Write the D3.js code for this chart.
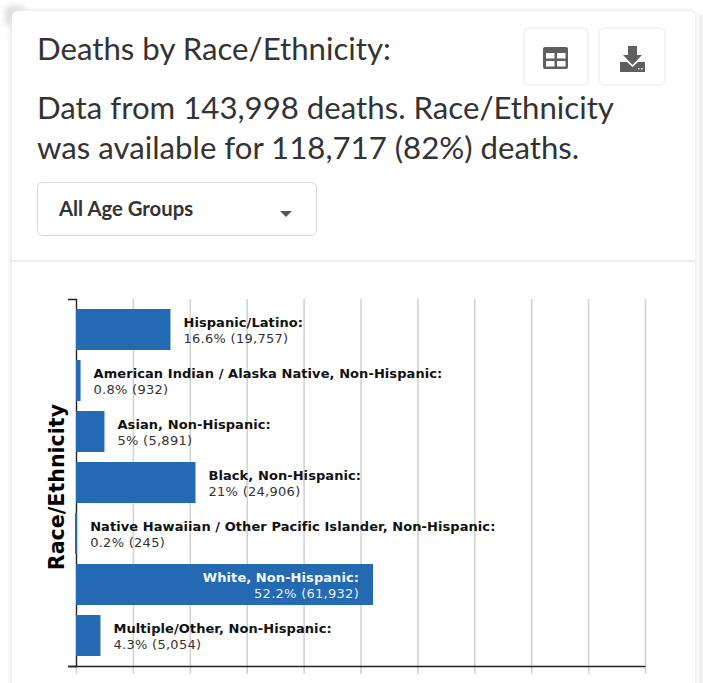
<!DOCTYPE html>
<html>
<head>
<meta charset="utf-8">
<script src="https://cdn.jsdelivr.net/npm/d3@7"></script>
<style>
  html, body { margin: 0; padding: 0; background: #fff; overflow: hidden; }
  svg { display: block; }
  .head { font-family: Lato, sans-serif; fill: #333; font-size: 31.2px; }
  .lab { font-family: "DejaVu Sans", sans-serif; font-size: 13px; fill: #333; letter-spacing: 0.28px; }
  .lab .name { font-weight: bold; fill: #111; letter-spacing: 0.07px; }
  .axis-title { font-family: "DejaVu Sans", sans-serif; font-size: 20.6px; font-weight: bold; fill: #000; }
</style>
</head>
<body>
<div id="chart"></div>
<script>
var w = 703;
var h = 683;

var categories = [
  "Hispanic/Latino",
  "American Indian / Alaska Native, Non-Hispanic",
  "Asian, Non-Hispanic",
  "Black, Non-Hispanic",
  "Native Hawaiian / Other Pacific Islander, Non-Hispanic",
  "White, Non-Hispanic",
  "Multiple/Other, Non-Hispanic"
];
var percents = [16.6, 0.8, 5, 21, 0.2, 52.2, 4.3];
var counts = [19757, 932, 5891, 24906, 245, 61932, 5054];
var xTicks = [0, 10, 20, 30, 40, 50, 60, 70, 80, 90, 100];

var titleLines = [
  "Deaths by Race/Ethnicity:",
  "Data from 143,998 deaths. Race/Ethnicity",
  "was available for 118,717 (82%) deaths."
];
var dropdownLabel = "All Age Groups";
var yTitle = "Race/Ethnicity";

var svg = d3.select("#chart").append("svg")
  .attr("width", w)
  .attr("height", h);

var defs = svg.append("defs");
var blur = defs.append("filter").attr("id", "soft")
  .attr("x", "-20%").attr("y", "-20%").attr("width", "140%").attr("height", "140%");
blur.append("feGaussianBlur").attr("stdDeviation", 2);
var blur2 = defs.append("filter").attr("id", "softer")
  .attr("x", "-50%").attr("y", "-50%").attr("width", "200%").attr("height", "200%");
blur2.append("feGaussianBlur").attr("stdDeviation", 3);

// page behind the card
svg.append("rect").attr("x", 5).attr("y", 6).attr("width", 20).attr("height", 20)
  .attr("rx", 6).attr("fill", "#dcdcdc").attr("filter", "url(#softer)");
svg.append("rect").attr("x", 699).attr("y", 15).attr("width", 10).attr("height", 680)
  .attr("fill", "#f2f2f2");

// card
svg.append("rect").attr("x", 10).attr("y", 10).attr("width", 686).attr("height", 720)
  .attr("rx", 7).attr("fill", "#e6e6e6").attr("filter", "url(#soft)");
svg.append("rect").attr("x", 12).attr("y", 11).attr("width", 683).attr("height", 720)
  .attr("rx", 6).attr("fill", "#fff");
svg.append("line").attr("x1", 12).attr("x2", 695).attr("y1", 261).attr("y2", 261)
  .attr("stroke", "#e4e4e4").attr("stroke-width", 1.5);

// heading
svg.selectAll("text.head").data(titleLines).enter().append("text")
  .attr("class", "head")
  .attr("x", 37)
  .attr("y", function(d, i) { return [60, 119, 159][i]; })
  .text(function(d) { return d; });

// buttons
[[524, 64], [599, 66]].forEach(function(b) {
  svg.append("rect").attr("x", b[0]).attr("y", 28).attr("width", b[1]).attr("height", 57)
    .attr("rx", 5).attr("fill", "#fff").attr("stroke", "#f3f3f3").attr("stroke-width", 2);
});
// table icon
svg.append("rect").attr("x", 543).attr("y", 47).attr("width", 25).attr("height", 22)
  .attr("rx", 2).attr("fill", "#5f5f5f");
[[546, 53], [557, 53], [546, 61], [557, 61]].forEach(function(c) {
  svg.append("rect").attr("x", c[0]).attr("y", c[1]).attr("width", 8.5).attr("height", 5.5).attr("fill", "#fff");
});
// download icon
svg.append("path")
  .attr("d", "M628 46h9v9h5l-9.5 10-9.5-10h5z M620 62h7l5.5 5 5.5-5h7v10h-25z")
  .attr("fill", "#5f5f5f");
svg.append("rect").attr("x", 638).attr("y", 68).attr("width", 1.5).attr("height", 1.5).attr("fill", "#fff");
svg.append("rect").attr("x", 641).attr("y", 68).attr("width", 1.5).attr("height", 1.5).attr("fill", "#fff");

// dropdown
svg.append("rect").attr("x", 37.5).attr("y", 182.5).attr("width", 279).attr("height", 53)
  .attr("rx", 5).attr("fill", "#fff").attr("stroke", "#d9d9d9");
svg.append("text").attr("x", 59).attr("y", 216)
  .attr("font-family", "Lato, sans-serif").attr("font-size", 20.3).attr("font-weight", "bold")
  .attr("fill", "#333").text(dropdownLabel);
svg.append("path").attr("d", "M280 211h12l-6 6z").attr("fill", "#555");

// chart
var xScale = d3.scaleLinear().domain([0, 100]).range([76, 645]);
var yScale = d3.scaleBand().domain(categories).range([299, 666]).padding(0.196);

//grid lines come from the bottom axis ticks
var xAxis = d3.axisBottom(xScale)
  .tickValues(xTicks)
  .tickSize(8)
  .tickSizeOuter(0)
  .tickFormat("");
var xg = svg.append("g")
  .attr("transform", "translate(0,666)")
  .call(xAxis);
xg.selectAll(".tick line")
  .attr("y1", -367)
  .attr("stroke", "#d2d2d2")
  .attr("stroke-width", 1.6);

var yAxis = d3.axisLeft(yScale).tickValues([]).tickSizeOuter(8);
var yg = svg.append("g")
  .attr("transform", "translate(76,0)")
  .call(yAxis);
yg.select(".domain").attr("stroke", "#222").attr("stroke-width", 1.3);

xg.select(".domain").remove();
svg.append("g").attr("transform", "translate(0,666)")
  .call(d3.axisBottom(d3.scaleLinear().domain([0, 100]).range([68, 645])).tickValues([]).tickSizeOuter(0))
  .select(".domain").attr("stroke", "#222").attr("stroke-width", 1.3);

var rows = categories.map(function(c, i) {
  return { name: c, pct: percents[i], count: counts[i] };
});

// very small bars get a 2px minimum so they still show over the axis line
var minBar = 2;
svg.selectAll("rect.bar").data(rows).enter().append("rect")
  .attr("class", "bar")
  .attr("x", function(d) {
    var bw = xScale(d.pct) - xScale(0);
    return bw < minBar ? xScale(0) - minBar / 2 : xScale(0);
  })
  .attr("y", function(d) { return yScale(d.name); })
  .attr("width", function(d) { return Math.max(xScale(d.pct) - xScale(0), minBar); })
  .attr("height", yScale.bandwidth())
  .attr("fill", "#236ab3");

var fmt = d3.format(",");
var labels = svg.selectAll("text.lab").data(rows).enter().append("text")
  .attr("class", "lab")
  .attr("transform", function(d) {
    var inside = d.pct > 40;
    var x = inside ? xScale(d.pct) - 14 : xScale(d.pct) + 13;
    return "translate(" + x + "," + yScale(d.name) + ")";
  })
  .attr("text-anchor", function(d) { return d.pct > 40 ? "end" : "start"; });

labels.append("tspan").attr("class", "name")
  .attr("x", 0).attr("y", 18)
  .style("fill", function(d) { return d.pct > 40 ? "#f4f7fb" : null; })
  .text(function(d) { return d.name + ":"; });
labels.append("tspan")
  .attr("x", 0).attr("y", 34)
  .style("fill", function(d) { return d.pct > 40 ? "#e8eef6" : null; })
  .text(function(d) { return d.pct + "% (" + fmt(d.count) + ")"; });

svg.append("text").attr("class", "axis-title")
  .attr("transform", "translate(64,487) rotate(-90)")
  .attr("text-anchor", "middle")
  .text(yTitle);
</script>
</body>
</html>
